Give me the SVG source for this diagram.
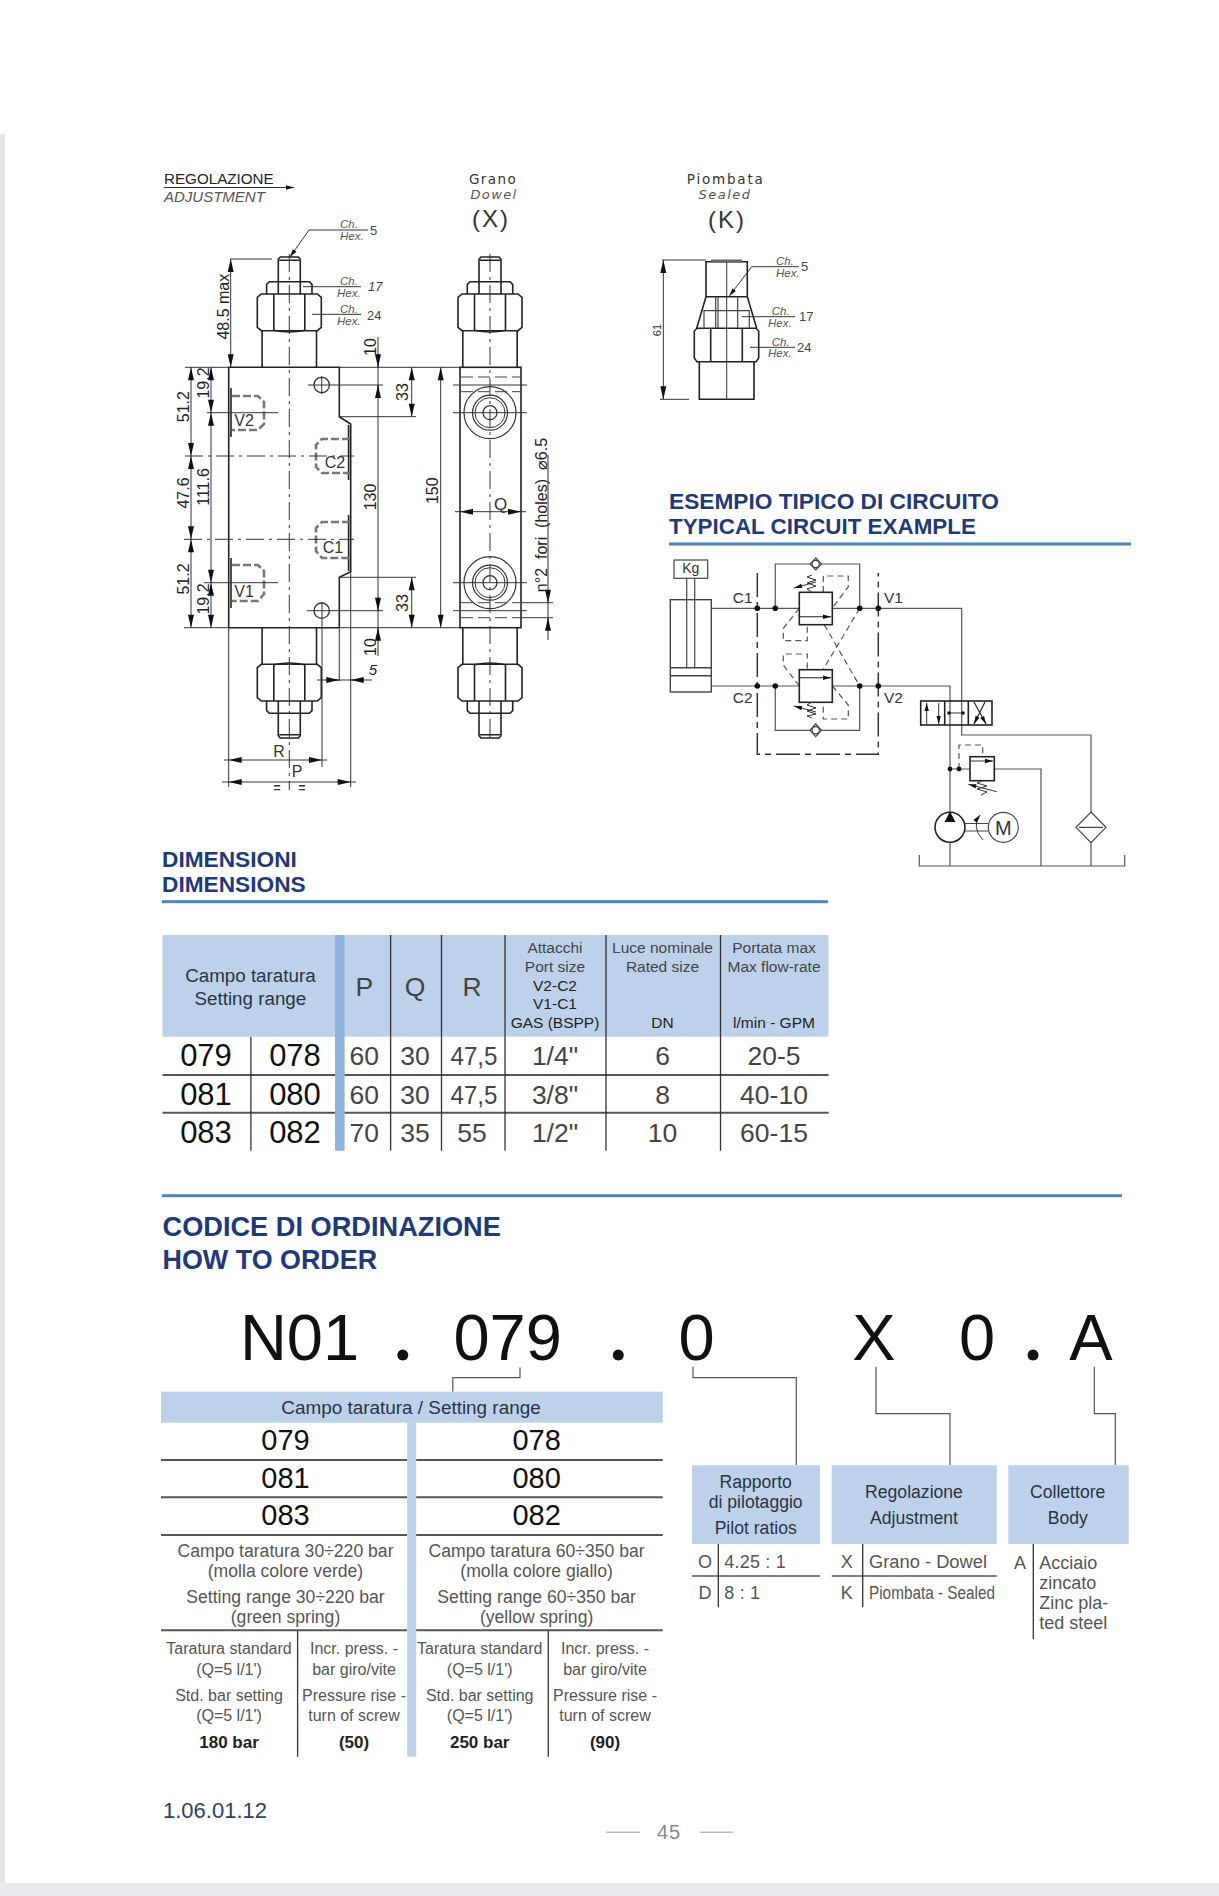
<svg xmlns="http://www.w3.org/2000/svg" width="1219" height="1896" viewBox="0 0 1219 1896">
<style>
text{font-family:"Liberation Sans",Arial,sans-serif;fill:#333}
.o{fill:none;stroke:#222;stroke-width:1.6}
.t{fill:none;stroke:#333;stroke-width:1}
.g{fill:none;stroke:#444;stroke-width:1.2}
.cl{fill:none;stroke:#333;stroke-width:1;stroke-dasharray:18 5 3 5}
.dl{fill:none;stroke:#444;stroke-width:1;stroke-dasharray:12 5}
.port{fill:none;stroke:#777;stroke-width:2.6;stroke-dasharray:8 3}
.cd{fill:none;stroke:#555;stroke-width:1.2;stroke-dasharray:6 4}
.bd{fill:none;stroke:#333;stroke-width:1.5;stroke-dasharray:24 5 6 5}
.a{marker-end:url(#ah);marker-start:url(#ah)}
.e{marker-end:url(#ah)}
.se{marker-end:url(#sh)}
.ss{marker-start:url(#sh)}
.d{font-size:16px;text-anchor:middle;fill:#222}
.i{font-style:italic;font-size:11.5px;fill:#555}
.n{font-size:13px;fill:#444}
.w2{font-family:"DejaVu Sans",sans-serif;text-anchor:middle}
.h1{font-weight:bold;fill:#1f3a78}
.bl{fill:#4a86bd}
.hd{fill:#bdd2ea}
.stripe{fill:#8fb4de}
.m{text-anchor:middle}
.k{fill:#111;font-size:31px;text-anchor:middle}
.v{fill:#444;font-size:26.5px;text-anchor:middle}
.s{fill:#444;font-size:15.5px;text-anchor:middle}
.r{stroke:#555;stroke-width:2;fill:none}
.b{stroke:#333;stroke-width:1.3;fill:none}
.q{fill:#111;font-size:29px;text-anchor:middle}
.x{fill:#555;font-size:17.6px;text-anchor:middle}
.y{fill:#555;font-size:16px;text-anchor:middle}
.yb{fill:#222;font-size:17px;font-weight:bold;text-anchor:middle}
.z{fill:#2a3442;font-size:17.6px;text-anchor:middle}
.big{fill:#111;font-size:65px;text-anchor:middle}
.dot{font-family:Lato,"Liberation Sans",sans-serif;fill:#111;font-size:72px;font-weight:bold;text-anchor:middle}
.c{fill:none;stroke:#555;stroke-width:1.2}
.w{fill:#555;font-size:18px}
</style>
<defs>
<marker id="ah" markerUnits="userSpaceOnUse" viewBox="-14 -4 15 8" markerWidth="15" markerHeight="8" refX="0" refY="0" orient="auto-start-reverse"><path d="M0,0 L-13,-3 L-13,3 Z" fill="#111"/></marker>
<marker id="sh" markerUnits="userSpaceOnUse" viewBox="-9 -3 10 6" markerWidth="10" markerHeight="6" refX="0" refY="0" orient="auto-start-reverse"><path d="M0,0 L-8,-2.2 L-8,2.2 Z" fill="#111"/></marker>
<g id="adj">
<path class="o" d="M-27.2,0 V-36.6 M27.2,0 V-36.6"/>
<path class="o" d="M-32,-40 V-70 L-28,-73.3 H28 L32,-70 V-40 L28,-36.6 H-28 Z"/>
<path class="o" d="M-15.5,-37 V-73 M15.5,-37 V-73 M-15.5,-37 Q0,-33.5 15.5,-37"/>
<path class="o" d="M-22.7,-73.3 V-83 L-20,-85.6 H20 L22.7,-83 V-73.3"/>
<path class="o" d="M-11,-73.3 V-85.6 M11,-73.3 V-85.6"/>
<path class="o" d="M-11,-85.6 V-108 L-9,-110.3 H9 L11,-108 V-85.6 M-10,-107 H10"/>
</g>
</defs>
<rect width="1219" height="1896" fill="#fff"/>
<g id="page-edge">
<rect x="0" y="134" width="5" height="1762" fill="#e6e6ea"/>
<rect x="0" y="1883" width="1219" height="13" fill="#e9e9ed"/>
</g>

<g id="view-side">
<text x="164" y="184" font-size="15.2" style="fill:#222">REGOLAZIONE</text>
<text x="164" y="202" font-size="15" font-style="italic" style="fill:#555">ADJUSTMENT</text>
<line class="t" x1="164" y1="187.5" x2="294" y2="187.5" style="marker-end:url(#sh)"/>
<use href="#adj" transform="translate(289.3,367.3)"/>
<use href="#adj" transform="translate(289.3,627.7) scale(1,-1)"/>
<path class="o" d="M228.7,367.3 H339.3 V416.7 L350.7,424 V571.7 L339.3,577.3 V627.7 H228.7 Z"/>
<path class="o" d="M231,388 V437 M231,558 V608 M348.6,425 V480 M348.6,515 V571"/>
<path class="cl" d="M289.3,254 V790"/>
<circle class="t" cx="321.7" cy="385" r="7.7" style="stroke-width:1.3"/>
<circle class="t" cx="321.7" cy="610.7" r="7.7" style="stroke-width:1.3"/>
<path class="t" d="M308,385 H383 M307,610.7 H383 M321.7,376 V394 M322,602 V767"/>
<path class="port" d="M232,396 H258 L264,402 V424 L258,430 H232"/>
<path class="port" d="M232,565 H258 L264,571 V594 L258,601 H232"/>
<path class="port" d="M350,439 H322 L316,445 V467 L322,473 H350"/>
<path class="port" d="M350,522 H322 L316,528 V551 L322,558 H350"/>
<text class="m" x="244" y="425.7" font-size="16">V2</text>
<text class="m" x="244" y="597" font-size="16">V1</text>
<text class="m" x="335" y="468" font-size="16">C2</text>
<text class="m" x="333" y="552.7" font-size="16">C1</text>
<path class="t" d="M207,412.7 H278 M204,582.7 H278"/>
<path class="cl" d="M185,456 H354 M184,539.3 H354"/>
<path class="t" d="M185,367.3 H228 M339,367.3 H460 M184,627.7 H228 M339,627.7 H460"/>
<path class="t" d="M228.7,628 V787 M350.7,571 V787 M339.3,628 V681"/>
<line class="t a" x1="228.7" y1="782" x2="350.7" y2="782"/>
<path class="t" d="M222,782 H229 M351,782 H356 M224,760 H229 M322,760 H327"/>
<line class="t a" x1="228.7" y1="760" x2="322" y2="760"/>
<text class="m" x="279" y="757" font-size="16">R</text>
<text class="m" x="297" y="777" font-size="16">P</text>
<text class="m" x="277" y="792" font-size="12" font-weight="bold">=</text>
<text class="m" x="302" y="792" font-size="12" font-weight="bold">=</text>
<line class="t" x1="317" y1="680" x2="372" y2="680"/>
<line class="t e" x1="326" y1="680" x2="339.3" y2="680"/>
<line class="t e" x1="364" y1="680" x2="350.7" y2="680"/>
<text class="d" x="373" y="675" style="font-size:15px;font-style:italic">5</text>
<line class="t" x1="378" y1="337" x2="378" y2="656"/>
<line class="t e" x1="378" y1="354" x2="378" y2="367.3"/>
<line class="t e" x1="378" y1="398" x2="378" y2="385"/>
<line class="t e" x1="378" y1="597" x2="378" y2="610.7"/>
<line class="t e" x1="378" y1="641" x2="378" y2="627.7"/>
<line class="t a" x1="411.7" y1="367.3" x2="411.7" y2="416.7"/>
<line class="t a" x1="411.7" y1="577.3" x2="411.7" y2="627.7"/>
<path class="t" d="M339,416.7 H416 M339,577.3 H416"/>
<line class="t a" x1="440.7" y1="367.3" x2="440.7" y2="627.7"/>
<line class="t a" x1="191" y1="367.3" x2="191" y2="456"/>
<line class="t a" x1="191" y1="456" x2="191" y2="539.3"/>
<line class="t a" x1="191" y1="539.3" x2="191" y2="627.7"/>
<line class="t a" x1="211" y1="367.3" x2="211" y2="412.7"/>
<line class="t a" x1="211" y1="412.7" x2="211" y2="582.7"/>
<line class="t a" x1="211" y1="582.7" x2="211" y2="627.7"/>
<line class="t a" x1="230.7" y1="259" x2="230.7" y2="367.3"/>
<path class="t" d="M230,259 H272"/>
<text class="d" transform="translate(189,406.7) rotate(-90)">51.2</text>
<text class="d" transform="translate(189,493) rotate(-90)">47.6</text>
<text class="d" transform="translate(189,579) rotate(-90)">51.2</text>
<text class="d" transform="translate(209,383) rotate(-90)">19.2</text>
<text class="d" transform="translate(209,487) rotate(-90)">111.6</text>
<text class="d" transform="translate(209,599) rotate(-90)">19.2</text>
<text class="d" transform="translate(229,306.7) rotate(-90)">48.5 max</text>
<text class="d" transform="translate(376,497) rotate(-90)">130</text>
<text class="d" transform="translate(376,347) rotate(-90)">10</text>
<text class="d" transform="translate(376,647) rotate(-90)">10</text>
<text class="d" transform="translate(408,392) rotate(-90)">33</text>
<text class="d" transform="translate(408,603) rotate(-90)">33</text>
<text class="d" transform="translate(438,490.7) rotate(-90)">150</text>
<polyline class="t" points="368,230 309,230 290,257" style="marker-end:url(#sh)"/>
<text class="i" x="340" y="228">Ch.</text><text class="i" x="340" y="240">Hex.</text><text class="n" x="370" y="235">5</text>
<path class="t" d="M303,286.7 H361"/>
<text class="i" x="340" y="285">Ch.</text><text class="i" x="337" y="297">Hex.</text><text class="n" x="368" y="291" font-style="italic">17</text>
<path class="t" d="M312,314.3 H361"/>
<text class="i" x="340" y="313">Ch.</text><text class="i" x="337" y="325">Hex.</text><text class="n" x="367" y="320">24</text>
</g>

<g id="view-x">
<text class="w2" x="493" y="184" font-size="13.5" letter-spacing="1.4">Grano</text>
<text class="w2" x="494" y="199" font-size="13" font-style="italic" letter-spacing="1.4" style="fill:#555">Dowel</text>
<text class="m" x="491" y="227" font-size="24" letter-spacing="2">(X)</text>
<use href="#adj" transform="translate(490,367.3)"/>
<use href="#adj" transform="translate(490,627.7) scale(1,-1)"/>
<rect class="o" x="460" y="367.3" width="61" height="260.4"/>
<path class="cl" d="M490,254 V742"/>
<circle class="t" cx="490" cy="412.7" r="26" style="stroke-width:1.2"/>
<circle class="t" cx="490" cy="412.7" r="17.5" style="stroke-width:1.2"/>
<circle class="t" cx="490" cy="412.7" r="15"/>
<circle class="t" cx="490" cy="412.7" r="7" style="stroke-width:1.2"/>
<circle class="t" cx="490" cy="582.7" r="26" style="stroke-width:1.2"/>
<circle class="t" cx="490" cy="582.7" r="17.5" style="stroke-width:1.2"/>
<circle class="t" cx="490" cy="582.7" r="15"/>
<circle class="t" cx="490" cy="582.7" r="7" style="stroke-width:1.2"/>
<path class="t" d="M453,412.7 H527 M453,582.7 H527 M453,385 H527 M453,610.7 H527"/>
<path class="dl" d="M461,377 H520 M461,391.7 H520 M461,602.7 H520 M461,617.7 H520"/>
<line class="t a" x1="460" y1="511.7" x2="521" y2="511.7"/>
<path class="t" d="M455,511.7 H460 M521,511.7 H526"/>
<text class="m" x="500.7" y="510" font-size="17">Q</text>
<line class="t" x1="548" y1="455" x2="548" y2="640"/>
<line class="t e" x1="548" y1="590" x2="548" y2="602.7"/>
<line class="t e" x1="548" y1="630" x2="548" y2="617.7"/>
<path class="t" d="M521,602.7 H553 M521,617.7 H553"/>
<text class="d" transform="translate(546.5,515) rotate(-90)">n°2&#160; fori&#160; (holes)&#160; ⌀6.5</text>
</g>

<g id="view-k">
<text class="w2" x="725.7" y="184" font-size="13.5" letter-spacing="1.8">Piombata</text>
<text class="w2" x="725" y="199" font-size="13" font-style="italic" letter-spacing="1.5" style="fill:#555">Sealed</text>
<text class="m" x="727" y="228" font-size="24" letter-spacing="2">(K)</text>
<path class="o" d="M706,296.7 V261.7 H747.3 V296.7 L756.7,328.3 M706,296.7 L696.7,328.3 M706,296.7 H747.3"/>
<path class="o" d="M711,261 H742" style="stroke-width:3;stroke:#666"/>
<path class="o" d="M694.3,331 V358 L697,361.7 H756 L758.7,358 V331 L756,328.3 H697 Z M710.7,328.3 V361.7 M742.3,328.3 V361.7"/>
<path class="o" d="M699.3,361.7 V399.3 H754 V361.7"/>
<path class="g" d="M715.7,328 V296.7 M737.7,328 V296.7 M718,296.7 V328 M704,328 V310.7 H749.3 V328"/>
<path class="t" d="M726.7,262 V399"/>
<line class="t a" x1="663.3" y1="260" x2="663.3" y2="399.3"/>
<path class="t" d="M662,260 H706 M660,399.3 H689"/>
<text transform="translate(661,330) rotate(-90)" class="m" font-size="11">61</text>
<polyline class="t" points="799,266.7 751.7,266.7 729.3,296" style="marker-end:url(#sh)"/>
<text class="i" x="776" y="265">Ch.</text><text class="i" x="776" y="277">Hex.</text><text class="n" x="801" y="271">5</text>
<path class="t" d="M741.7,316.7 H795"/>
<text class="i" x="771.7" y="315">Ch.</text><text class="i" x="768" y="327">Hex.</text><text class="n" x="799" y="321">17</text>
<path class="t" d="M750,347.3 H795"/>
<text class="i" x="771.7" y="345.7">Ch.</text><text class="i" x="768" y="357">Hex.</text><text class="n" x="797" y="352">24</text>
</g>

<g id="heading-circuit">
<text class="h1" x="669" y="509.3" font-size="22.7">ESEMPIO TIPICO DI CIRCUITO</text>
<text class="h1" x="669" y="534.3" font-size="22.4">TYPICAL CIRCUIT EXAMPLE</text>
<rect class="bl" x="669" y="542.5" width="462" height="3"/>
</g>

<g id="circuit">
<g id="cylinder">
<rect class="g" x="674" y="560" width="33.7" height="18.3"/>
<text class="m" x="690.7" y="573" font-size="14">Kg</text>
<path class="g" d="M686.7,578 V667.7 M694.7,578 V667.7"/>
<rect class="g" x="670.3" y="599.7" width="41" height="92.3" style="stroke-width:1.4"/>
<path class="g" d="M670.3,667.7 H711.3 M670.3,675.7 H711.3" style="stroke-width:1.4"/>
</g>
<g id="connectors">
<path class="c" d="M711.3,608.3 H799.3 M832.3,608.3 H961.7 V735 H1091 V812 M1091,842 V866"/>
<path class="c" d="M711.3,686 H799.3 M832.3,686 H950 V812 M950,842 V866"/>
<path class="c" d="M775.3,608.3 V564 H859.7 V608.3 M775.3,686 V730.3 H859.7 V686"/>
<path class="c" d="M919.3,855 V866 H1124.7 V855"/>
<path class="c" d="M950,769 H970 M994.3,769 H1041 V866"/>
<path class="cd" d="M823.3,592 V576 H848.3 V586.7 L832.3,608"/>
<path class="cd" d="M799.3,608.3 L783.3,628.3 V640.7 H807.3 V624.7"/>
<path class="cd" d="M799.3,686 L783.3,665 V654 H807.3 V669.7"/>
<path class="cd" d="M832.3,686 L848.3,705 V719 H823.3 V702.3"/>
<path class="cd" d="M859.7,608.3 L823,669.7 M824.3,624.7 L859.7,686"/>
<path class="cd" d="M959,769 V745 H982.7 V756.7"/>
</g>
<path class="bd" d="M757.3,573 V754.3 H878.3 V573"/>
<g fill="#111">
<circle cx="757.3" cy="608.3" r="2.8"/><circle cx="775.3" cy="608.3" r="2.8"/><circle cx="859.7" cy="608.3" r="2.8"/><circle cx="878.3" cy="608.3" r="2.8"/>
<circle cx="757.3" cy="686" r="2.8"/><circle cx="775.3" cy="686" r="2.8"/><circle cx="859.7" cy="686" r="2.8"/><circle cx="878.3" cy="686" r="2.8"/>
<circle cx="950" cy="769" r="2.4"/><circle cx="959" cy="769" r="2.4"/>
</g>
<g id="valve-top">
<rect class="o" x="799.3" y="592.3" width="33" height="32.4" style="fill:#fff"/>
<line class="g se" x1="800" y1="616.7" x2="831" y2="616.7"/>
<polyline class="t" points="811.7,592 807,589 816,586 807,583 816,580 807,577 812,575"/>
<line class="t ss" x1="794" y1="588" x2="816" y2="582"/>
</g>
<g id="valve-bottom">
<rect class="o" x="799.3" y="669.7" width="33" height="32.6" style="fill:#fff"/>
<line class="g se" x1="800" y1="677.7" x2="831" y2="677.7"/>
<polyline class="t" points="811.7,702.3 807,705 816,708 807,711 816,714 807,716 812,718"/>
<line class="t ss" x1="794" y1="706" x2="816" y2="712"/>
</g>
<g id="check-top"><path class="g" d="M815.7,558 L821.5,564 L815.7,570 L810,564 Z" style="fill:#fff"/><circle class="g" cx="815.7" cy="564" r="3.6" style="fill:#fff"/></g>
<g id="check-bottom"><path class="g" d="M815.7,724 L821.5,730.3 L815.7,736.6 L810,730.3 Z" style="fill:#fff"/><circle class="g" cx="815.7" cy="730.3" r="3.6" style="fill:#fff"/></g>
<text x="732.7" y="603" font-size="15.5">C1</text><text x="884" y="603" font-size="15.5">V1</text>
<text x="732.7" y="703" font-size="15.5">C2</text><text x="884" y="703" font-size="15.5">V2</text>
<g id="directional-valve">
<rect class="o" x="920.7" y="701" width="71.3" height="24" style="fill:none"/>
<path class="o" d="M944.7,701 V725 M968.3,701 V725"/>
<line class="t se" x1="926.7" y1="724" x2="926.7" y2="703"/>
<line class="t se" x1="938.7" y1="703" x2="938.7" y2="724"/>
<path class="t" d="M949,713 H963"/><circle cx="949" cy="713" r="1.8" fill="#111"/><circle cx="963" cy="713" r="1.8" fill="#111"/>
<line class="t se" x1="985" y1="702" x2="974" y2="724" style="stroke-width:1.3"/>
<line class="t se" x1="974" y1="702" x2="986" y2="724" style="stroke-width:1.3"/>
</g>
<g id="relief-valve">
<rect class="o" x="970" y="756.7" width="24.3" height="24" style="fill:#fff"/>
<line class="t se" x1="971" y1="761" x2="993" y2="761"/>
<polyline class="t" points="982,781 977,783 987,786 977,789 987,792 981,795"/>
<line class="t ss" x1="968.3" y1="784.3" x2="996.7" y2="791.7"/>
</g>
<g id="pump">
<circle class="o" cx="950" cy="827.3" r="15" style="fill:#fff"/>
<path d="M950,811.5 L944.5,822 H955.5 Z" fill="#111"/>
<path class="g" d="M965,823.5 H988 M965,831 H988"/>
<path class="t se" d="M983,840 Q971,827 980,815"/>
</g>
<g id="motor">
<circle class="g" cx="1003.3" cy="827.3" r="15" style="fill:#fff"/>
<text class="m" x="1003.3" y="834.5" font-size="20">M</text>
</g>
<g id="filter">
<path class="g" d="M1091,812 L1106,827.3 L1091,842.7 L1076,827.3 Z M1079,827.3 H1103"/>
</g>
</g>

<g id="heading-dimensions">
<text class="h1" x="162" y="867.3" font-size="22.7">DIMENSIONI</text>
<text class="h1" x="162" y="891.7" font-size="22.7">DIMENSIONS</text>
<rect class="bl" x="162" y="900.2" width="666" height="3"/>
</g>

<g id="table-dimensions">
<rect class="hd" x="162.5" y="935" width="666" height="101.7"/>
<rect class="stripe" x="335" y="935" width="9.6" height="215.7"/>
<path class="r" d="M162.5,1075 H335 M344.6,1075 H828.6 M162.5,1112.7 H335 M344.6,1112.7 H828.6"/>
<path class="b" d="M250.9,1036.7 V1150.7 M390.6,935 V1150.7 M441.5,935 V1150.7 M505,935 V1150.7 M606,935 V1150.7 M720.5,935 V1150.7"/>
<text class="z" style="font-size:18.8px" x="250.4" y="981.7">Campo taratura</text>
<text class="z" style="font-size:18.8px" x="250.4" y="1005">Setting range</text>
<text class="v" x="364.3" y="996">P</text><text class="v" x="415" y="996">Q</text><text class="v" x="472" y="996">R</text>
<text class="s" x="555" y="953.3">Attacchi</text><text class="s" x="555" y="972.3">Port size</text>
<text class="s" x="555" y="990.7" style="fill:#222">V2-C2</text><text class="s" x="555" y="1009.3" style="fill:#222">V1-C1</text>
<text class="s" x="555" y="1028.3" style="fill:#222">GAS (BSPP)</text>
<text class="s" x="662.5" y="953.3">Luce nominale</text><text class="s" x="662.5" y="972.3">Rated size</text><text class="s" x="662.5" y="1028.3" style="fill:#222">DN</text>
<text class="s" x="774" y="953.3">Portata max</text><text class="s" x="774" y="972.3">Max flow-rate</text><text class="s" x="774" y="1028.3" style="fill:#222">l/min - GPM</text>
<text class="k" x="206" y="1066">079</text><text class="k" x="295" y="1066">078</text>
<text class="v" x="364.3" y="1065">60</text><text class="v" x="415" y="1065">30</text><text class="v" x="474" y="1065" textLength="47" lengthAdjust="spacingAndGlyphs">47,5</text><text class="v" x="555" y="1065">1/4"</text><text class="v" x="662.5" y="1065">6</text><text class="v" x="774" y="1065">20-5</text>
<text class="k" x="206" y="1105">081</text><text class="k" x="295" y="1105">080</text>
<text class="v" x="364.3" y="1104">60</text><text class="v" x="415" y="1104">30</text><text class="v" x="474" y="1104" textLength="47" lengthAdjust="spacingAndGlyphs">47,5</text><text class="v" x="555" y="1104">3/8"</text><text class="v" x="662.5" y="1104">8</text><text class="v" x="774" y="1104">40-10</text>
<text class="k" x="206" y="1143">083</text><text class="k" x="295" y="1143">082</text>
<text class="v" x="364.3" y="1142">70</text><text class="v" x="415" y="1142">35</text><text class="v" x="472" y="1142">55</text><text class="v" x="555" y="1142">1/2"</text><text class="v" x="662.5" y="1142">10</text><text class="v" x="774" y="1142">60-15</text>
</g>

<g id="heading-order">
<rect class="bl" x="162" y="1194.2" width="960" height="3"/>
<text class="h1" x="162.5" y="1236" font-size="27.2">CODICE DI ORDINAZIONE</text>
<text class="h1" x="162.5" y="1269.3" font-size="26.9">HOW TO ORDER</text>
</g>

<g id="order-code">
<text class="big" x="299.5" y="1360">N01</text>
<text class="dot" x="402.8" y="1360">.</text>
<text class="big" x="507.7" y="1360">079</text>
<text class="dot" x="618.3" y="1360">.</text>
<text class="big" x="696.7" y="1360">0</text>
<text class="big" x="874" y="1360">X</text>
<text class="big" x="977" y="1360">0</text>
<text class="dot" x="1033" y="1360">.</text>
<text class="big" x="1091" y="1360">A</text>
</g>

<g id="order-connectors">
<path class="c" d="M520,1367.3 V1377.7 H452.8 V1391.7"/>
<path class="c" d="M693,1366.7 V1377.7 H796.3 V1465.3"/>
<path class="c" d="M876,1366.7 V1413.7 H950 V1465.3"/>
<path class="c" d="M1094.3,1366.7 V1413.7 H1115.3 V1465.3"/>
</g>

<g id="table-range">
<rect class="hd" x="161" y="1391.7" width="501.8" height="31"/>
<text class="z" style="font-size:18.9px" x="411" y="1414">Campo taratura / Setting range</text>
<rect class="hd" x="407.2" y="1422.7" width="9" height="334"/>
<path class="r" d="M161,1460 H407 M416.2,1460 H662.8 M161,1497.3 H407 M416.2,1497.3 H662.8 M161,1535 H407 M416.2,1535 H662.8 M161,1630.3 H407 M416.2,1630.3 H662.8"/>
<path class="b" d="M297.6,1630.3 V1756.7 M548.3,1630.3 V1756.7"/>
<text class="q" x="285.5" y="1450">079</text><text class="q" x="536.6" y="1450">078</text>
<text class="q" x="285.5" y="1487.7">081</text><text class="q" x="536.6" y="1487.7">080</text>
<text class="q" x="285.5" y="1525">083</text><text class="q" x="536.6" y="1525">082</text>
<text class="x" x="285.5" y="1556.7">Campo taratura 30÷220 bar</text><text class="x" x="285.5" y="1576.7">(molla colore verde)</text>
<text class="x" x="285.5" y="1602.7">Setting range 30÷220 bar</text><text class="x" x="285.5" y="1622.7">(green spring)</text>
<text class="x" x="536.6" y="1556.7">Campo taratura 60÷350 bar</text><text class="x" x="536.6" y="1576.7">(molla colore giallo)</text>
<text class="x" x="536.6" y="1602.7">Setting range 60÷350 bar</text><text class="x" x="536.6" y="1622.7">(yellow spring)</text>
<text class="y" x="229" y="1654">Taratura standard</text><text class="y" x="229" y="1675">(Q=5 l/1')</text><text class="y" x="229" y="1701">Std. bar setting</text><text class="y" x="229" y="1721">(Q=5 l/1')</text><text class="yb" x="229" y="1747.7">180 bar</text>
<text class="y" x="354" y="1654">Incr. press. -</text><text class="y" x="354" y="1675">bar giro/vite</text><text class="y" x="354" y="1701">Pressure rise -</text><text class="y" x="354" y="1721">turn of screw</text><text class="yb" x="354" y="1747.7">(50)</text>
<text class="y" x="479.7" y="1654">Taratura standard</text><text class="y" x="479.7" y="1675">(Q=5 l/1')</text><text class="y" x="479.7" y="1701">Std. bar setting</text><text class="y" x="479.7" y="1721">(Q=5 l/1')</text><text class="yb" x="479.7" y="1747.7">250 bar</text>
<text class="y" x="605" y="1654">Incr. press. -</text><text class="y" x="605" y="1675">bar giro/vite</text><text class="y" x="605" y="1701">Pressure rise -</text><text class="y" x="605" y="1721">turn of screw</text><text class="yb" x="605" y="1747.7">(90)</text>
</g>

<g id="box-pilot">
<rect class="hd" x="692" y="1465.3" width="128" height="78.7"/>
<text class="z" x="755.7" y="1487.7">Rapporto</text><text class="z" x="755.7" y="1508.3">di pilotaggio</text><text class="z" x="755.7" y="1534">Pilot ratios</text>
<path class="r" d="M692,1576 H820" style="stroke-width:1.6"/><path class="b" d="M718.3,1544 V1607.3"/>
<text class="w m" x="705" y="1567.7">O</text><text class="w" x="724.3" y="1567.7" letter-spacing="0.2">4.25 : 1</text>
<text class="w m" x="705" y="1598.7">D</text><text class="w" x="724.3" y="1598.7" letter-spacing="0.2">8 : 1</text>
</g>
<g id="box-adjustment">
<rect class="hd" x="831.7" y="1465.3" width="165" height="78.7"/>
<text class="z" x="914" y="1498">Regolazione</text><text class="z" x="914" y="1524">Adjustment</text>
<path class="r" d="M831.7,1576 H996.7" style="stroke-width:1.6"/><path class="b" d="M862.7,1544 V1607.3"/>
<text class="w m" x="846.7" y="1567.7">X</text><text class="w" x="869" y="1567.7" textLength="118" lengthAdjust="spacingAndGlyphs">Grano - Dowel</text>
<text class="w m" x="846.7" y="1598.7">K</text><text class="w" x="869" y="1598.7" textLength="126" lengthAdjust="spacingAndGlyphs">Piombata - Sealed</text>
</g>
<g id="box-body">
<rect class="hd" x="1008.3" y="1465.3" width="120.4" height="78.7"/>
<text class="z" x="1067.7" y="1498">Collettore</text><text class="z" x="1067.7" y="1524">Body</text>
<path class="b" d="M1033.3,1544 V1639.3"/>
<text class="w m" x="1020" y="1568.7">A</text>
<text class="w" x="1039.3" y="1568.7">Acciaio</text><text class="w" x="1039.3" y="1588.7">zincato</text><text class="w" x="1039.3" y="1609">Zinc pla-</text><text class="w" x="1039.3" y="1629.3">ted steel</text>
</g>

<g id="footer">
<text x="163" y="1817.7" font-size="22" style="fill:#2c4070">1.06.01.12</text>
<path d="M606,1832.3 H640 M700,1832.3 H733" stroke="#bbb" stroke-width="1.4" fill="none"/>
<text class="m" x="669" y="1839.3" font-size="20" letter-spacing="1" style="fill:#888">45</text>
</g>
</svg>
